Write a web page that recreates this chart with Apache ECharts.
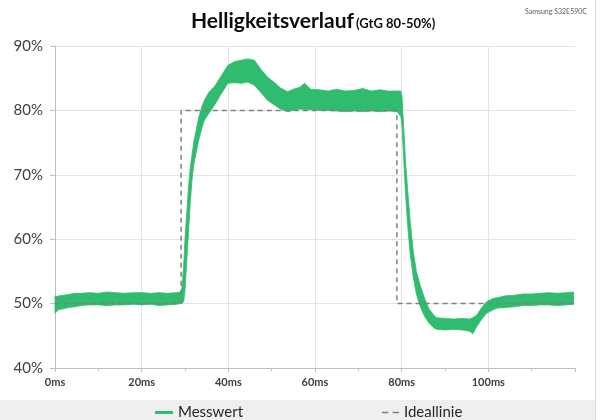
<!DOCTYPE html>
<html>
<head>
<meta charset="utf-8">
<script src="https://cdn.jsdelivr.net/npm/echarts@6/dist/echarts.min.js"></script>
<style>html,body{margin:0;padding:0;background:#fff}#c{width:600px;height:420px}</style>
</head>
<body>
<div id="c"></div>
<script>
// Messwert: time (ms), lower and upper envelope of the noisy measured band (%)
var mTime = [0,0.5,1,2,3,4.5,6,8,10,12,14,16,18,20,22,24,26,28,29,
  29.3,29.7,30.0,30.4,30.8,31.2,31.6,32.0,32.6,33.2,34.0,34.5,35.5,36.8,38.3,39.9,41.5,43.0,44.5,46.0,47.6,49.0,50.7,52.0,53.7,55.0,56.5,57.6,59.0,
  61,63,65,67,69,71,73,75,77,79,79.8,
  80.1,80.5,80.9,81.4,82.0,82.7,83.4,84.3,85.3,86.3,87.3,88,90,92,94,95.7,96.4,97.3,98.5,99.6,101,102,104,106,108,110,112,114,116,118,119.7];
var mLow = [48.5,48.9,49.1,49.2,49.4,49.5,49.7,49.8,49.8,49.7,49.8,49.8,49.9,49.8,49.9,49.7,49.8,49.9,50.0,
  50.0,50.3,52.0,56.5,61.0,65.5,69.0,71.5,73.5,75.5,77.5,78.5,79.5,80.8,82.5,84.2,84.3,84.2,84.4,83.9,82.7,81.6,80.8,80.2,79.8,80.0,80.2,80.1,80.1,
  80.0,80.0,79.9,79.8,79.9,79.8,79.9,79.8,79.9,79.8,79.0,
  77.5,72.0,67.0,62.0,57.5,54.0,51.5,49.5,48.0,47.0,46.3,46.0,45.9,46.0,45.9,45.7,45.3,46.4,47.6,48.5,49.0,49.3,49.4,49.5,49.7,49.7,49.8,49.8,49.7,49.8,49.9];
var mHigh = [51.2,51.1,51.2,51.3,51.4,51.6,51.6,51.7,51.6,51.8,51.7,51.6,51.7,51.7,51.6,51.7,51.6,51.7,51.8,
  52.5,56.0,60.0,64.0,68.0,71.0,73.0,75.0,77.0,79.0,80.8,81.6,82.8,83.7,85.3,87.0,87.6,87.8,88.0,87.8,86.3,85.2,84.3,83.5,82.9,83.3,83.6,84.2,83.3,
  83.2,83.0,83.3,83.0,83.1,83.4,83.0,83.2,83.0,83.0,83.0,
  82.0,77.0,72.0,67.5,62.5,58.0,55.0,52.8,50.8,49.2,48.3,47.8,47.7,47.6,47.7,47.6,47.8,48.2,49.4,50.3,50.8,50.9,51.2,51.3,51.5,51.5,51.6,51.7,51.6,51.7,51.8];
// Ideallinie
var idealTime = [0, 29.1, 29.1, 78.9, 78.9, 120];
var idealValue = [50, 50, 80, 80, 50, 50];
// axis ticks
var xTicks = [0, 20, 40, 60, 80, 100];
var yTicks = [40, 50, 60, 70, 80, 90];

var GREEN = '#30bc6f';
var FONT = 'Lato, "Open Sans", sans-serif';

var idealData = idealTime.map(function (t, i) { return [t, idealValue[i]]; });
// one item per time sample: [t, low, high]
var bandData = mTime.map(function (t, i) { return [t, mLow[i], mHigh[i]]; });

function renderBand(params, api) {
  if (params.dataIndex !== 0) return null;
  var pts = [];
  var i;
  for (i = 0; i < bandData.length; i++) pts.push(api.coord([bandData[i][0], bandData[i][2]]));
  for (i = bandData.length - 1; i >= 0; i--) pts.push(api.coord([bandData[i][0], bandData[i][1]]));
  return {
    type: 'polygon',
    shape: {points: pts},
    style: {fill: GREEN, stroke: GREEN, lineWidth: 0.8}
  };
}

var chart = echarts.init(document.getElementById('c'), null, {renderer: 'canvas'});
chart.setOption({
  animation: false,
  backgroundColor: '#fff',
  title: [{
    text: '{a|Helligkeitsverlauf}{b|(GtG 80-50%)}',
    left: 186, top: 6,
    textStyle: {
      rich: {
        a: {fontFamily: FONT, fontWeight: 'bold', fontSize: 21, color: '#0d0d0d'},
        b: {fontFamily: FONT, fontWeight: 'bold', fontSize: 13, color: '#0d0d0d', padding: [4, 0, 0, 2]}
      }
    }
  }, {
    text: 'Samsung S32E590C',
    right: 8, top: 3,
    textStyle: {fontFamily: FONT, fontSize: 7, fontWeight: 'normal', color: '#595959'}
  }],
  graphic: [
    {type: 'rect', shape: {x: 0, y: 400, width: 595, height: 20}, style: {fill: '#efefef'}, z: -10},
    {type: 'line', shape: {x1: 595.5, y1: 0, x2: 595.5, y2: 420}, style: {stroke: '#d9d9d9', lineWidth: 1}, z: -10}
  ],
  grid: {left: 55, right: 25, top: 46, bottom: 52},
  legend: [{
    data: [{name: 'Messwert', icon: 'rect', itemStyle: {color: GREEN}}],
    left: 150, top: 400, itemWidth: 18, itemHeight: 3, itemGap: 2,
    textStyle: {fontFamily: FONT, fontSize: 15, color: '#262626'}
  }, {
    data: [{name: 'Ideallinie', icon: 'path://M0,0h6v1.5h-6z M10,0h6v1.5h-6z', itemStyle: {color: '#7f7f7f'}}],
    left: 377, top: 400, itemWidth: 17, itemHeight: 2,
    textStyle: {fontFamily: FONT, fontSize: 15, color: '#262626'}
  }],
  xAxis: {
    type: 'value', min: 0, max: 120, interval: 20,
    axisLine: {show: true, lineStyle: {color: '#bfbfbf'}},
    axisTick: {show: true, length: 4, lineStyle: {color: '#bfbfbf'}},
    minorTick: {show: true, splitNumber: 2, length: 3, lineStyle: {color: '#bfbfbf'}},
    splitLine: {show: false},
    axisLabel: {
      margin: 9, fontFamily: FONT, fontSize: 11, fontWeight: 'bold', color: '#404040',
      formatter: function (v) { return xTicks.indexOf(v) >= 0 ? v + 'ms' : ''; }
    }
  },
  yAxis: {
    type: 'value', min: 40, max: 90, interval: 10,
    axisLine: {show: true, lineStyle: {color: '#bfbfbf'}},
    axisTick: {show: true, length: 5, lineStyle: {color: '#bfbfbf'}},
    splitLine: {show: true, lineStyle: {color: '#e3e3e3'}},
    axisLabel: {margin: 12, fontFamily: FONT, fontSize: 15, color: '#404040', formatter: '{value}%'}
  },
  series: [{
    name: 'Messwert', type: 'custom', renderItem: renderBand,
    data: bandData, encode: {x: 0, y: [1, 2]},
    itemStyle: {color: GREEN}, z: 3, silent: true
  }, {
    name: 'Ideallinie', type: 'line', data: idealData,
    symbol: 'none', itemStyle: {color: '#7f7f7f'},
    lineStyle: {color: '#7f7f7f', width: 1.5, type: [5, 4]}, z: 4, silent: true,
    markLine: {
      silent: true, symbol: 'none', label: {show: false},
      lineStyle: {color: '#e3e3e3', width: 1, type: 'solid'},
      data: xTicks.filter(function (v) { return v > 0; }).map(function (v) { return {xAxis: v}; }),
      z: 1
    }
  }]
});
</script>
</body>
</html>
